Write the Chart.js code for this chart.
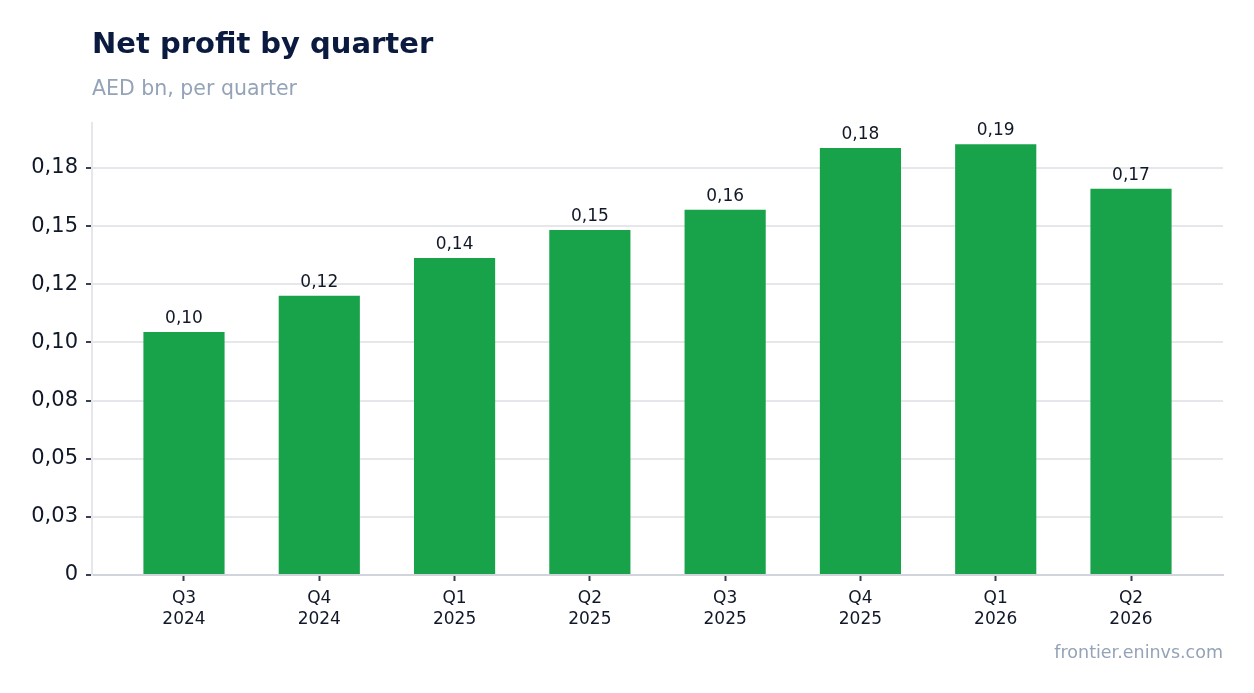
<!DOCTYPE html>
<html>
<head>
<meta charset="utf-8">
<script src="https://cdn.jsdelivr.net/npm/chart.js@4.4.1/dist/chart.umd.min.js"></script>
<style>
    html, body { margin: 0; padding: 0; background: #ffffff; }
    #wrap { position: relative; width: 1254px; height: 693px; font-family: "DejaVu Sans", sans-serif; }
    #wrap canvas { position: absolute; left: 0; top: 0; }
    .title { position: absolute; left: 92px; top: 29px; font-size: 29px; font-weight: bold; color: #0b1b3f; line-height: 1; white-space: nowrap; }
    .subtitle { position: absolute; left: 92px; top: 78px; font-size: 20.5px; color: #94a3b8; line-height: 1; white-space: nowrap; }
    .source { position: absolute; right: 31px; top: 644px; font-size: 17.5px; color: #94a3b8; line-height: 1; white-space: nowrap; }
</style>
</head>
<body>
<div id="wrap">
    <canvas id="graph1" width="1254" height="693"></canvas>
    <div class="title">Net profit by quarter</div>
    <div class="subtitle">AED bn, per quarter</div>
    <div class="source">frontier.eninvs.com</div>
</div>
<script>
// datos
const quarters = ['Q3', 'Q4', 'Q1', 'Q2', 'Q3', 'Q4', 'Q1', 'Q2'];
const years = ['2024', '2024', '2025', '2025', '2025', '2025', '2026', '2026'];
const netProfit = [0.1045, 0.120, 0.1363, 0.1483, 0.157, 0.1836, 0.1852, 0.166];
const yTickValues = [0, 0.025, 0.05, 0.075, 0.1, 0.125, 0.15, 0.175];
const yTickLabels = ['0', '0,03', '0,05', '0,08', '0,10', '0,12', '0,15', '0,18'];

const puntos = netProfit.map((v, i) => ({ x: i, y: v }));

// etiquetas encima de cada barra
const barValueLabels = {
    id: 'barValueLabels',
    afterDatasetsDraw(chart) {
        const ctx = chart.ctx;
        const meta = chart.getDatasetMeta(0);
        ctx.save();
        ctx.font = '17px "DejaVu Sans", sans-serif';
        ctx.fillStyle = '#111827';
        ctx.textAlign = 'center';
        ctx.textBaseline = 'alphabetic';
        meta.data.forEach((bar, i) => {
            const texto = netProfit[i].toFixed(2).replace('.', ',');
            ctx.fillText(texto, bar.x, bar.y - 9);
        });
        ctx.restore();
    }
};

function init() {
    const ctx = document.getElementById('graph1').getContext('2d');
    const profitChart = new Chart(ctx, {
        type: 'bar',
        data: {
            datasets: [{
                label: 'Net profit',
                data: puntos,
                backgroundColor: '#18a34a',
                borderWidth: 0,
                categoryPercentage: 1,
                barPercentage: 0.6
            }]
        },
        options: {
            responsive: false,
            animation: false,
            devicePixelRatio: 1,
            layout: {
                padding: { top: 123, right: 31, bottom: 0, left: 0 }
            },
            plugins: {
                legend: { display: false },
                tooltip: { enabled: false }
            },
            scales: {
                x: {
                    type: 'linear',
                    min: -0.68,
                    max: 7.68,
                    offset: false,
                    afterFit: (scale) => { scale.height = 118; },
                    grid: {
                        offset: false,
                        drawOnChartArea: false,
                        drawTicks: true,
                        tickLength: 6,
                        tickColor: '#374151',
                        tickWidth: 2
                    },
                    border: { color: '#d1d5db', width: 2 },
                    ticks: {
                        stepSize: 1,
                        includeBounds: false,
                        autoSkip: false,
                        color: '#111827',
                        padding: 7,
                        maxRotation: 0,
                        font: { family: 'DejaVu Sans', size: 17, lineHeight: 1.25 },
                        callback: (value) => {
                            const i = Math.round(value);
                            if (Math.abs(value - i) > 1e-6 || i < 0 || i >= quarters.length) return '';
                            return [quarters[i], years[i]];
                        }
                    }
                },
                y: {
                    min: 0,
                    max: 0.1943,
                    afterFit: (scale) => { scale.width = 92; },
                    grid: {
                        color: '#e5e7eb',
                        lineWidth: 2,
                        drawTicks: true,
                        tickLength: 6,
                        tickColor: '#374151',
                        tickWidth: 2
                    },
                    border: { color: '#e5e7eb', width: 2 },
                    ticks: {
                        stepSize: 0.025,
                        includeBounds: false,
                        color: '#111827',
                        padding: 8,
                        font: { family: 'DejaVu Sans', size: 21 },
                        callback: (value) => {
                            const idx = yTickValues.findIndex(v => Math.abs(v - value) < 1e-6);
                            return idx >= 0 ? yTickLabels[idx] : '';
                        }
                    }
                }
            }
        },
        plugins: [barValueLabels]
    });
}

document.addEventListener('DOMContentLoaded', function () {
    init();
});
</script>
</body>
</html>
